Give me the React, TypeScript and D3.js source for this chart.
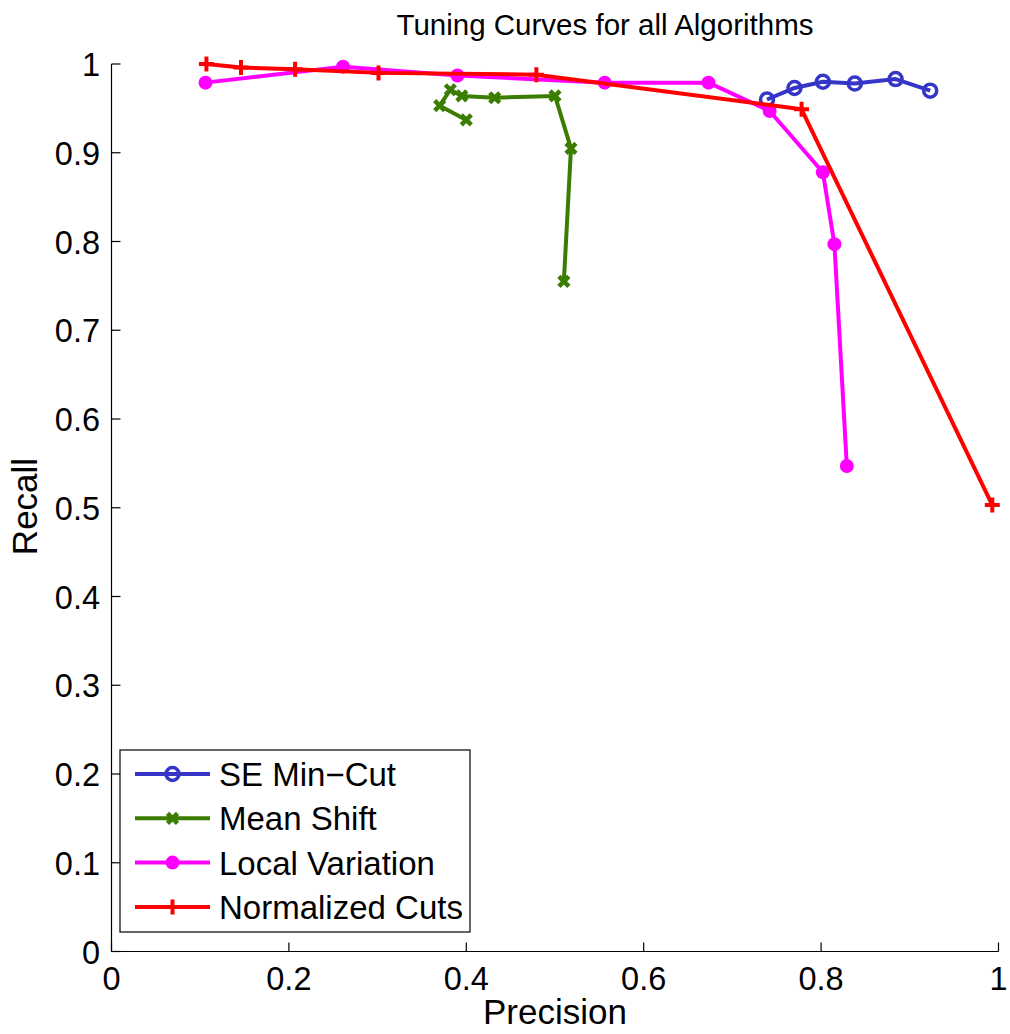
import React, { useEffect, useRef } from 'react';
import * as d3 from 'd3';

// precision (x) / recall (y) pairs
const seMinCutP = [0.739, 0.770, 0.802, 0.838, 0.884, 0.923];
const seMinCutR = [0.960, 0.973, 0.980, 0.978, 0.983, 0.970];

const meanShiftP = [0.400, 0.370, 0.382, 0.395, 0.432, 0.500, 0.518, 0.510];
const meanShiftR = [0.937, 0.953, 0.971, 0.964, 0.962, 0.964, 0.905, 0.755];

const localVarP = [0.106, 0.261, 0.390, 0.556, 0.673, 0.742, 0.802, 0.815, 0.829];
const localVarR = [0.979, 0.997, 0.987, 0.979, 0.979, 0.947, 0.878, 0.797, 0.547];

const ncutsP = [0.107, 0.146, 0.207, 0.301, 0.479, 0.778, 0.993];
const ncutsR = [1.000, 0.996, 0.994, 0.990, 0.988, 0.949, 0.503];

const xTicks = [0, 0.2, 0.4, 0.6, 0.8, 1];
const yTicks = [0, 0.1, 0.2, 0.3, 0.4, 0.5, 0.6, 0.7, 0.8, 0.9, 1];

const seriesNames = ['SE Min\u2212Cut', 'Mean Shift', 'Local Variation', 'Normalized Cuts'];
const seriesColors = ['#3535c8', '#3a7d00', '#ff00ff', '#ff0000'];
const seriesMarkers = ['circle', 'x', 'dot', 'plus'];

const App = () => {
  const ref = useRef<SVGSVGElement>(null);

  useEffect(() => {
    const width = 1010;
    const height = 1034;
    const margin = { top: 64, right: 11.5, bottom: 82.5, left: 111.5 };
    const font = 'Liberation Sans, Arial, Helvetica, sans-serif';

    const svg = d3.select(ref.current);
    svg.selectAll('*').remove();

    const x = d3.scaleLinear().domain([0, 1]).range([margin.left, width - margin.right]);
    const y = d3.scaleLinear().domain([0, 1]).range([height - margin.bottom, margin.top]);

    const series = [
      { p: seMinCutP, r: seMinCutR },
      { p: meanShiftP, r: meanShiftR },
      { p: localVarP, r: localVarR },
      { p: ncutsP, r: ncutsR },
    ].map((s, i) => ({
      name: seriesNames[i],
      color: seriesColors[i],
      marker: seriesMarkers[i],
      pts: s.p.map((v, j) => [v, s.r[j]] as [number, number]),
    }));

    // draws a marker centred at cx, cy
    const drawMarker = (g: any, kind: string, color: string, cx: number, cy: number) => {
      if (kind === 'circle') {
        g.append('circle').attr('cx', cx).attr('cy', cy).attr('r', 6.5)
          .attr('fill', 'none').attr('stroke', color).attr('stroke-width', 3.5);
      } else if (kind === 'dot') {
        g.append('circle').attr('cx', cx).attr('cy', cy).attr('r', 7).attr('fill', color);
      } else if (kind === 'plus') {
        const s = 7.5;
        g.append('path')
          .attr('d', `M${cx - s},${cy}H${cx + s}M${cx},${cy - s}V${cy + s}`)
          .attr('stroke', color).attr('stroke-width', 4).attr('fill', 'none');
      } else {
        const s = 5;
        g.append('path')
          .attr('d', `M${cx - s},${cy - s}L${cx + s},${cy + s}M${cx - s},${cy + s}L${cx + s},${cy - s}`)
          .attr('stroke', color).attr('stroke-width', 4.5).attr('fill', 'none');
      }
    };

    // axes (left and bottom only, ticks pointing in)
    const axes = svg.append('g').attr('stroke', '#000').attr('stroke-width', 1.2);
    axes.append('line').attr('x1', x(0)).attr('x2', x(1)).attr('y1', y(0)).attr('y2', y(0));
    axes.append('line').attr('x1', x(0)).attr('x2', x(0)).attr('y1', y(0)).attr('y2', y(1));
    xTicks.forEach(t => {
      axes.append('line').attr('x1', x(t)).attr('x2', x(t)).attr('y1', y(0)).attr('y2', y(0) - 9);
    });
    yTicks.forEach(t => {
      axes.append('line').attr('x1', x(0)).attr('x2', x(0) + 9).attr('y1', y(t)).attr('y2', y(t));
    });

    const labels = svg.append('g').attr('font-family', font).attr('fill', '#000');
    xTicks.forEach(t => {
      labels.append('text').attr('x', x(t)).attr('y', y(0) + 38.5).attr('font-size', 32.5)
        .attr('text-anchor', 'middle').text(d3.format('~g')(t));
    });
    yTicks.forEach(t => {
      labels.append('text').attr('x', x(0) - 11.5).attr('y', y(t) + 12).attr('font-size', 32.5)
        .attr('text-anchor', 'end').text(d3.format('~g')(t));
    });

    labels.append('text').attr('x', (x(0) + x(1)) / 2).attr('y', 1024).attr('font-size', 35)
      .attr('text-anchor', 'middle').text('Precision');
    labels.append('text').attr('font-size', 35)
      .attr('transform', `translate(37,506.5) rotate(-90)`)
      .attr('text-anchor', 'middle').text('Recall');
    labels.append('text').attr('x', 605).attr('y', 35)
      .attr('text-anchor', 'middle').attr('font-size', 29.5).text('Tuning Curves for all Algorithms');

    const line = d3.line<[number, number]>().x(d => x(d[0])).y(d => y(d[1]));

    series.forEach(s => {
      const g = svg.append('g');
      g.append('path').datum(s.pts).attr('d', line)
        .attr('fill', 'none').attr('stroke', s.color).attr('stroke-width', 4)
        .attr('stroke-linejoin', 'round');
      s.pts.forEach(d => drawMarker(g, s.marker, s.color, x(d[0]), y(d[1])));
    });

    // legend
    const lg = svg.append('g');
    lg.append('rect').attr('x', 120).attr('y', 750).attr('width', 350).attr('height', 182)
      .attr('fill', '#fff').attr('stroke', '#000').attr('stroke-width', 1.2);
    series.forEach((s, i) => {
      const ly = 774 + i * 44.3;
      lg.append('line').attr('x1', 135).attr('x2', 210).attr('y1', ly).attr('y2', ly)
        .attr('stroke', s.color).attr('stroke-width', 4);
      drawMarker(lg, s.marker, s.color, 172.5, ly);
      lg.append('text').attr('x', 219).attr('y', ly + 12)
        .attr('font-family', font).attr('font-size', 33).attr('fill', '#000').text(s.name);
    });
  }, []);

  return (
    <svg ref={ref} width={1010} height={1034}
      style={{ position: 'absolute', left: 0, top: 0, background: '#fff' }} />
  );
};

export default App;
